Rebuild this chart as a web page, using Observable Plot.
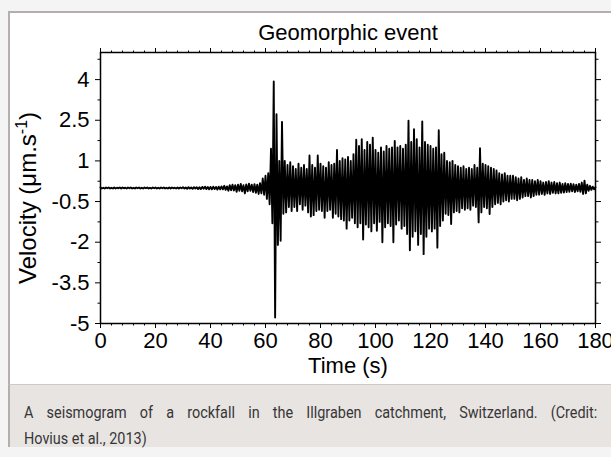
<!DOCTYPE html>
<html><head><meta charset="utf-8">
<script src="https://cdn.jsdelivr.net/npm/d3@7"></script>
<script src="https://cdn.jsdelivr.net/npm/@observablehq/plot@0.6"></script>
<style>
html,body{margin:0;padding:0;background:#f4f4f4;width:611px;height:457px;overflow:hidden;}
#panel{position:absolute;left:8px;top:11px;width:620px;height:371px;background:#fff;border-left:2px solid #b4afac;border-top:2px solid #b4afac;}
#chart{position:absolute;left:0;top:0;}
#caption{position:absolute;left:8px;top:384px;width:620px;height:62px;background:#e8e4e2;border-left:2px solid #b4afac;border-top:1px solid #cfcac7;}
#caption .l1,#caption .l2{position:absolute;left:14px;font:16px/26px Roboto,sans-serif;color:#363636;white-space:nowrap;transform:scaleX(0.9);transform-origin:0 0;}
#caption .l1{top:15px;width:637px;text-align:justify;text-align-last:justify;white-space:normal;}
#caption .l2{top:41px;}
</style></head>
<body>
<div id="panel"></div>
<div id="chart"></div>
<div id="caption"><div class="l1">A seismogram of a rockfall in the Illgraben catchment, Switzerland. (Credit:</div><div class="l2">Hovius et al., 2013)</div></div>
<script>
// Sampling of the trace (seconds)
const tStart = 0;
const tStep = 0.5;
// Velocity (µm/s), one value every 0.5 s
const velocity = [
  0.02,-0.02,0.01,-0.02,0.02,-0.01,0.02,-0.02,0.01,-0.02,0.02,-0.02,0.01,-0.01,0.02,-0.02,0.02,-0.01,0.01,-0.02,
  0.02,-0.01,0.02,-0.02,0.01,-0.02,0.02,-0.01,0.02,-0.02,0.01,-0.02,0.02,-0.01,0.02,-0.02,0.01,-0.02,0.02,-0.01,
  0.02,-0.02,0.01,-0.02,0.02,-0.01,0.02,-0.02,0.01,-0.02,0.02,-0.02,0.02,-0.01,0.01,-0.02,0.02,-0.02,0.02,-0.01,
  0.03,-0.02,0.02,-0.03,0.03,-0.02,0.02,-0.03,0.03,-0.02,0.03,-0.04,0.03,-0.04,0.04,-0.03,0.05,-0.04,0.04,-0.05,
  0.04,-0.05,0.05,-0.04,0.04,-0.06,0.05,-0.05,0.06,-0.05,0.08,-0.07,0.06,-0.1,0.1,-0.08,0.12,-0.09,0.1,-0.14,
  0.12,-0.1,0.15,-0.12,0.1,-0.2,0.13,-0.12,0.16,-0.1,0.12,-0.15,0.14,-0.18,0.12,-0.22,0.18,-0.2,0.35,-0.25,
  0.45,-0.4,0.55,-0.6,1.45,-1.3,3.93,-4.78,2.72,-2.1,1.0,-1.95,2.44,-0.95,1.0,-0.9,0.85,-0.7,0.95,-0.85,
  0.8,-0.7,0.7,-0.85,0.9,-0.6,0.75,-0.8,0.85,-0.65,0.7,-0.9,1.2,-1.05,0.85,-1.0,0.75,-0.85,1.2,-0.8,
  0.9,-0.85,0.8,-1.1,0.75,-0.85,0.95,-0.8,0.85,-1.1,0.9,-0.95,1.4,-1.05,1.0,-1.15,1.1,-1.2,1.05,-1.5,
  1.15,-1.2,1.0,-1.1,1.25,-1.3,1.78,-1.45,1.55,-1.3,1.8,-1.9,1.4,-1.35,1.7,-1.45,1.6,-1.6,1.86,-1.3,
  1.4,-1.58,1.3,-1.25,1.5,-2.0,1.35,-1.45,1.55,-1.3,1.45,-1.4,1.5,-2.0,1.74,-1.35,1.5,-1.2,1.55,-1.5,
  1.45,-1.4,1.6,-1.7,2.48,-2.3,1.7,-1.8,2.17,-1.6,1.8,-2.1,1.5,-1.7,2.46,-2.44,1.7,-1.8,1.6,-1.5,
  1.55,-1.6,1.45,-1.5,1.5,-2.2,2.13,-1.4,1.25,-1.2,1.3,-0.95,1.0,-1.0,0.95,-1.33,1.0,-0.9,0.85,-0.85,
  0.8,-0.9,0.75,-0.75,0.8,-0.8,0.7,-0.75,0.75,-0.8,0.7,-0.65,0.85,-0.7,0.75,-1.27,1.47,-0.9,0.9,-0.7,
  0.85,-0.75,0.8,-0.96,0.75,-0.7,0.7,-0.6,0.65,-0.55,0.55,-0.6,0.5,-0.5,0.55,-0.45,0.45,-0.5,0.45,-0.4,
  0.45,-0.4,0.4,-0.45,0.35,-0.4,0.4,-0.35,0.3,-0.3,0.35,-0.3,0.3,-0.35,0.3,-0.3,0.25,-0.25,0.3,-0.25,
  0.25,-0.22,0.2,-0.25,0.22,-0.2,0.25,-0.22,0.2,-0.18,0.22,-0.2,0.18,-0.2,0.2,-0.18,0.15,-0.17,0.18,-0.15,
  0.15,-0.14,0.16,-0.12,0.14,-0.15,0.12,-0.12,0.15,-0.14,0.2,-0.22,0.27,-0.2,0.12,-0.1,0.08,-0.07,0.05,-0.05,
  0.03
];
const xTicks = [0,20,40,60,80,100,120,140,160,180];
const xMinorTicks = [4,8,12,16,24,28,32,36,44,48,52,56,64,68,72,76,84,88,92,96,104,108,112,116,124,128,132,136,144,148,152,156,164,168,172,176];
const yTicks = [-5,-3.5,-2,-0.5,1,2.5,4];
const yMinorTicks = [-4.25,-2.75,-1.25,0.25,1.75,3.25,4.75];
const titleText = "Geomorphic event";
const xLabel = "Time (s)";
const yLabel = "Velocity (μm.s-1)";

const data = velocity.map((v, i) => ({t: tStart + i * tStep, v}));
const fs = 22;
const none = () => "";

const chart = Plot.plot({
  width: 611, height: 384,
  marginLeft: 100, marginRight: 16, marginTop: 52, marginBottom: 61,
  x: {domain: [0, 180]},
  y: {domain: [-5, 5]},
  style: {fontFamily: "'Liberation Sans', Arial, sans-serif", background: "transparent", color: "black", overflow: "visible"},
  marks: [
    Plot.line(data, {x: "t", y: "v", stroke: "black", strokeWidth: 1.9}),
    Plot.frame({stroke: "black", strokeWidth: 1.5}),
    Plot.axisX({anchor: "bottom", ticks: xTicks, tickSize: 5, tickPadding: 4, fontSize: fs, label: null, tickFormat: d => String(d)}),
    Plot.axisX({anchor: "bottom", ticks: xMinorTicks, tickSize: 2.5, tickFormat: none, label: null}),
    Plot.axisX({anchor: "top", ticks: xTicks, tickSize: 5, tickFormat: none, label: null}),
    Plot.axisX({anchor: "top", ticks: xMinorTicks, tickSize: 2.5, tickFormat: none, label: null}),
    Plot.axisY({anchor: "left", ticks: yTicks, tickSize: 5, tickPadding: 6, fontSize: fs, label: null, tickFormat: d => String(d)}),
    Plot.axisY({anchor: "left", ticks: yMinorTicks, tickSize: 2.5, tickFormat: none, label: null}),
    Plot.axisY({anchor: "right", ticks: yTicks, tickSize: 5, tickFormat: none, label: null}),
    Plot.axisY({anchor: "right", ticks: yMinorTicks, tickSize: 2.5, tickFormat: none, label: null}),
    Plot.text([titleText], {text: d => d, frameAnchor: "top", lineAnchor: "middle", textAnchor: "middle", dy: -20, fontSize: fs, fill: "black"}),
    Plot.text([xLabel], {text: d => d, frameAnchor: "bottom", lineAnchor: "middle", textAnchor: "middle", dy: 42, fontSize: fs, fill: "black"}),
    Plot.text([yLabel], {text: d => d, frameAnchor: "left", lineAnchor: "middle", textAnchor: "middle", dx: -72, dy: 10, rotate: -90, fontSize: 24, fill: "black"})
  ]
});
document.getElementById("chart").appendChild(chart);

// superscript for the unit
chart.querySelectorAll("text").forEach(el => {
  if (el.textContent === yLabel) {
    el.textContent = "";
    const ns = "http://www.w3.org/2000/svg";
    const a = document.createElementNS(ns, "tspan"); a.textContent = "Velocity (μm.s";
    const b = document.createElementNS(ns, "tspan"); b.textContent = "-1"; b.setAttribute("dy", "-9"); b.setAttribute("font-size", "16");
    const c = document.createElementNS(ns, "tspan"); c.textContent = ")"; c.setAttribute("dy", "9");
    el.append(a, b, c);
  }
});
</script>
</body></html>
